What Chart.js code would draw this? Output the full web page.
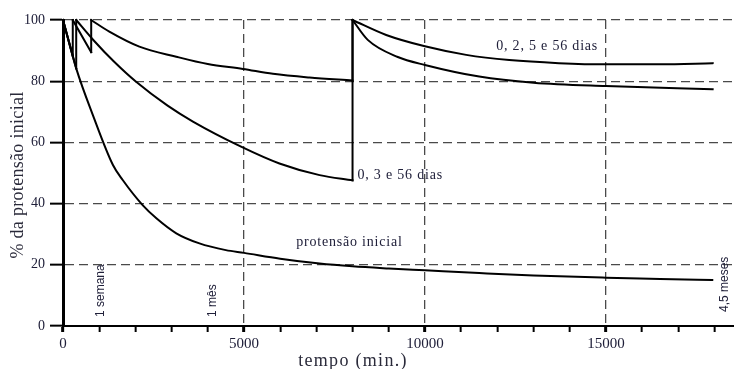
<!DOCTYPE html>
<html>
<head>
<meta charset="utf-8">
<script src="https://cdn.jsdelivr.net/npm/chart.js@4.4.1/dist/chart.umd.min.js"></script>
<style>
html,body{margin:0;padding:0;background:#fff;}
canvas{display:block;}
</style>
</head>
<body>
<canvas id="c" width="734" height="369"></canvas>
<script>
// ---- data (time in the chart's "min." units, values in % of initial prestress) ----
const tInicial = [0, 365, 823, 1380, 1650, 2200, 2580, 3130, 3770, 4500, 5000, 6000, 7090, 8000, 9000, 10000, 11500, 13000, 15000, 16500, 17940];
const vInicial = [100, 84.2, 69.0, 52.6, 47.7, 39.5, 35.2, 30.3, 27.0, 24.8, 23.9, 22.0, 20.4, 19.5, 18.8, 18.2, 17.3, 16.5, 15.8, 15.4, 15.0];

const t0356 = [0, 365, 365, 850, 1400, 2020, 2890, 3590, 4920, 5980, 7090, 8000, 8000, 8420, 9250, 10000, 11500, 13000, 15000, 17950];
const v0356 = [100, 84.2, 100, 93.3, 86.5, 79.8, 72.0, 66.8, 58.6, 53.1, 49.3, 47.6, 100, 93.5, 87.9, 85.3, 81.5, 79.5, 78.4, 77.4];

const t02556 = [0, 270, 270, 779, 779, 1280, 2110, 3130, 4000, 4970, 5800, 6810, 8000, 8000, 8930, 10000, 11140, 12330, 13700, 15000, 16500, 17950];
const v02556 = [100, 88.3, 100, 89.5, 100, 96.2, 91.3, 88.0, 85.6, 84.0, 82.4, 81.2, 80.2, 100, 95.1, 91.4, 88.6, 86.9, 85.9, 85.5, 85.5, 85.9];

const xTickValues = [0, 1000, 2000, 3000, 4000, 5000, 6000, 7000, 8000, 9000, 10000, 11000, 12000, 13000, 14000, 15000, 16000, 17000, 18000];
const xLabeled = [0, 5000, 10000, 15000];
const yTickValues = [0, 20, 40, 60, 80, 100];

const seriesLabels = ['protensão inicial', '0, 3 e 56 dias', '0, 2, 5 e 56 dias'];
const xTitle = 'tempo (min.)';
const yTitle = '% da protensão inicial';
const markText = ['1 semana', '1 mês', '4,5 meses'];
const markTime = [1050, 4130, 18270];

// ---- build: split each curve at its re-tensioning jumps ----
function pieces(t, v) {
  const out = [];
  let cur = [{x: t[0], y: v[0]}];
  for (let i = 1; i < t.length; i++) {
    if (t[i] === t[i - 1]) {
      out.push({pts: cur, smooth: true});
      out.push({pts: [{x: t[i - 1], y: v[i - 1]}, {x: t[i], y: v[i]}], smooth: false});
      cur = [{x: t[i], y: v[i]}];
    } else {
      cur.push({x: t[i], y: v[i]});
    }
  }
  out.push({pts: cur, smooth: true});
  return out;
}
const datasets = [];
[[tInicial, vInicial], [t0356, v0356], [t02556, v02556]].forEach(([t, v], k) => {
  pieces(t, v).forEach(p => datasets.push({
    label: seriesLabels[k], data: p.pts, borderColor: '#000', borderWidth: 2,
    pointRadius: 0, fill: false, clip: false,
    tension: 0, cubicInterpolationMode: p.smooth ? 'monotone' : 'default',
    borderCapStyle: 'square', borderJoinStyle: 'miter'
  }));
});

const TXT = '#20203a';
const SERIF = '"Liberation Serif", "DejaVu Serif", serif';
const SANS = '"Liberation Sans", Arial, sans-serif';

const notes = [
  {text: seriesLabels[2], t: 11970, v: 91.3},
  {text: seriesLabels[1], t: 8135, v: 49.1},
  {text: seriesLabels[0], t: 6442, v: 27.5}
];

const textPlugin = {
  id: 'texts',
  afterDraw(chart) {
    const {ctx, scales: {x, y}, chartArea} = chart;
    ctx.save();
    ctx.fillStyle = TXT;
    ctx.font = '14px ' + SERIF;
    ctx.letterSpacing = '0.8px';
    ctx.textAlign = 'left';
    ctx.textBaseline = 'middle';
    notes.forEach(n => ctx.fillText(n.text, x.getPixelForValue(n.t), y.getPixelForValue(n.v)));
    ctx.font = '12px ' + SANS;
    ctx.letterSpacing = '0px';
    markText.forEach((s, i) => {
      ctx.save();
      const bottom = i === 2 ? 312 : 317;
      ctx.translate(x.getPixelForValue(markTime[i]), bottom);
      ctx.rotate(-Math.PI / 2);
      ctx.textAlign = 'left';
      ctx.textBaseline = 'middle';
      ctx.fillText(s, 0, 0);
      ctx.restore();
    });
    ctx.fillStyle = '#2a2a3a';
    ctx.font = '18px ' + SERIF;
    ctx.letterSpacing = '1.3px';
    ctx.textAlign = 'center';
    ctx.textBaseline = 'alphabetic';
    ctx.fillText(xTitle, 353, 366);
    ctx.save();
    ctx.letterSpacing = '0.3px';
    ctx.translate(18, (chartArea.top + chartArea.bottom) / 2 + 2);
    ctx.rotate(-Math.PI / 2);
    ctx.textBaseline = 'middle';
    ctx.fillText(yTitle, 0, 0);
    ctx.restore();
    ctx.restore();
  }
};

new Chart(document.getElementById('c'), {
  type: 'line',
  data: {datasets},
  options: {
    responsive: false,
    animation: false,
    events: [],
    layout: {padding: {top: 20, left: 0, right: 0, bottom: 0}},
    plugins: {legend: {display: false}, tooltip: {enabled: false}, title: {display: false}},
    scales: {
      x: {
        type: 'linear', min: 0, max: 18540,
        afterBuildTicks: s => { s.ticks = xTickValues.map(v => ({value: v})); },
        afterFit: s => { s.height = 43; },
        ticks: {
          autoSkip: false, maxRotation: 0, minRotation: 0, padding: 3,
          color: TXT, font: {family: SERIF, size: 15},
          callback: v => xLabeled.includes(v) ? String(v) : ''
        },
        grid: {
          color: c => (c.tick && xLabeled.includes(c.tick.value) && c.tick.value > 0) ? '#4a4a4a' : 'transparent',
          lineWidth: 1.3,
          tickLength: 6,
          tickColor: '#000',
          tickWidth: c => (c.tick && xLabeled.includes(c.tick.value)) ? 3 : 2
        },
        border: {display: true, color: '#000', width: 2, dash: [9, 5]}
      },
      y: {
        type: 'linear', min: 0, max: 100,
        afterBuildTicks: s => { s.ticks = yTickValues.map(v => ({value: v})); },
        afterFit: s => { s.width = 63; },
        ticks: {padding: 5, color: TXT, font: {family: SERIF, size: 14}},
        grid: {
          color: c => (c.tick && c.tick.value > 0) ? '#4a4a4a' : 'transparent',
          lineWidth: 1.3,
          tickLength: 13,
          tickColor: '#000',
          tickWidth: 2
        },
        border: {display: true, color: '#000', width: 3, dash: [9, 5]}
      }
    }
  },
  plugins: [textPlugin]
});
</script>
</body>
</html>
